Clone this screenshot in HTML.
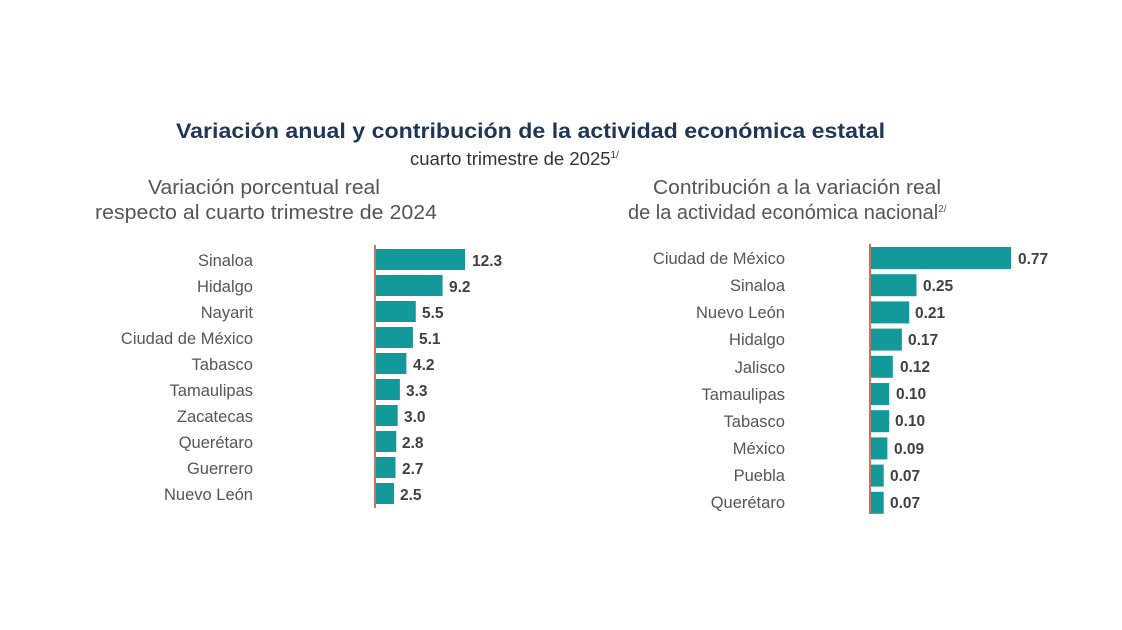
<!DOCTYPE html>
<html><head><meta charset="utf-8"><style>
body{margin:0;background:#fff}
svg{display:block}
.t{font-family:"Liberation Sans",sans-serif}
.l{font-size:16.5px;fill:#555;text-anchor:end}
.v{font-size:15.5px;font-weight:bold;fill:#404040}
</style></head><body>
<svg width="1122" height="630" class="t" xmlns="http://www.w3.org/2000/svg">
<text x="176" y="138" font-size="21" font-weight="bold" fill="#1f3654" textLength="709" lengthAdjust="spacingAndGlyphs">Variación anual y contribución de la actividad económica estatal</text>
<text x="410" y="165" font-size="18.5" fill="#333">cuarto trimestre de 2025<tspan font-size="10" dy="-7">1/</tspan></text>
<text x="148" y="194" font-size="20" fill="#555" textLength="232" lengthAdjust="spacingAndGlyphs">Variación porcentual real</text>
<text x="95" y="219" font-size="20" fill="#555" textLength="342" lengthAdjust="spacingAndGlyphs">respecto al cuarto trimestre de 2024</text>
<text x="653" y="194" font-size="20" fill="#555" textLength="288" lengthAdjust="spacingAndGlyphs">Contribución a la variación real</text>
<text x="628" y="219" font-size="20" fill="#555">de la actividad económica nacional<tspan font-size="10" dy="-7">2/</tspan></text>
<g fill="#14999a">
<rect x="376" y="249" width="89" height="21"/>
<rect x="376" y="275" width="66.6" height="21"/>
<rect x="376" y="301" width="39.8" height="21"/>
<rect x="376" y="327" width="36.9" height="21"/>
<rect x="376" y="353" width="30.4" height="21"/>
<rect x="376" y="379" width="23.9" height="21"/>
<rect x="376" y="405" width="21.7" height="21"/>
<rect x="376" y="431" width="20.3" height="21"/>
<rect x="376" y="457" width="19.5" height="21"/>
<rect x="376" y="483" width="18.1" height="21"/>
<rect x="871" y="247" width="140" height="22"/>
<rect x="871" y="274.2" width="45.5" height="22"/>
<rect x="871" y="301.4" width="38.2" height="22"/>
<rect x="871" y="328.6" width="30.9" height="22"/>
<rect x="871" y="355.8" width="21.8" height="22"/>
<rect x="871" y="383" width="18.2" height="22"/>
<rect x="871" y="410.2" width="18.2" height="22"/>
<rect x="871" y="437.4" width="16.4" height="22"/>
<rect x="871" y="464.6" width="12.7" height="22"/>
<rect x="871" y="491.8" width="12.7" height="22"/>
</g>
<line x1="375" y1="245" x2="375" y2="508" stroke="#b5472b" stroke-width="1.5"/>
<line x1="870" y1="244" x2="870" y2="514" stroke="#b5472b" stroke-width="1.5"/>
<g class="l">
<text x="253" y="266">Sinaloa</text>
<text x="253" y="292">Hidalgo</text>
<text x="253" y="318">Nayarit</text>
<text x="253" y="344">Ciudad de México</text>
<text x="253" y="370">Tabasco</text>
<text x="253" y="396">Tamaulipas</text>
<text x="253" y="422">Zacatecas</text>
<text x="253" y="448">Querétaro</text>
<text x="253" y="474">Guerrero</text>
<text x="253" y="500">Nuevo León</text>
<text x="785" y="264">Ciudad de México</text>
<text x="785" y="291">Sinaloa</text>
<text x="785" y="318">Nuevo León</text>
<text x="785" y="345">Hidalgo</text>
<text x="785" y="373">Jalisco</text>
<text x="785" y="400">Tamaulipas</text>
<text x="785" y="427">Tabasco</text>
<text x="785" y="454">México</text>
<text x="785" y="481">Puebla</text>
<text x="785" y="508">Querétaro</text>
</g>
<g class="v">
<text x="472" y="266">12.3</text>
<text x="449" y="292">9.2</text>
<text x="422" y="318">5.5</text>
<text x="419" y="344">5.1</text>
<text x="413" y="370">4.2</text>
<text x="406" y="396">3.3</text>
<text x="404" y="422">3.0</text>
<text x="402" y="448">2.8</text>
<text x="402" y="474">2.7</text>
<text x="400" y="500">2.5</text>
<text x="1018" y="264">0.77</text>
<text x="923" y="291">0.25</text>
<text x="915" y="318">0.21</text>
<text x="908" y="345">0.17</text>
<text x="900" y="372">0.12</text>
<text x="896" y="399">0.10</text>
<text x="895" y="426">0.10</text>
<text x="894" y="454">0.09</text>
<text x="890" y="481">0.07</text>
<text x="890" y="508">0.07</text>
</g>
</svg>
</body></html>
